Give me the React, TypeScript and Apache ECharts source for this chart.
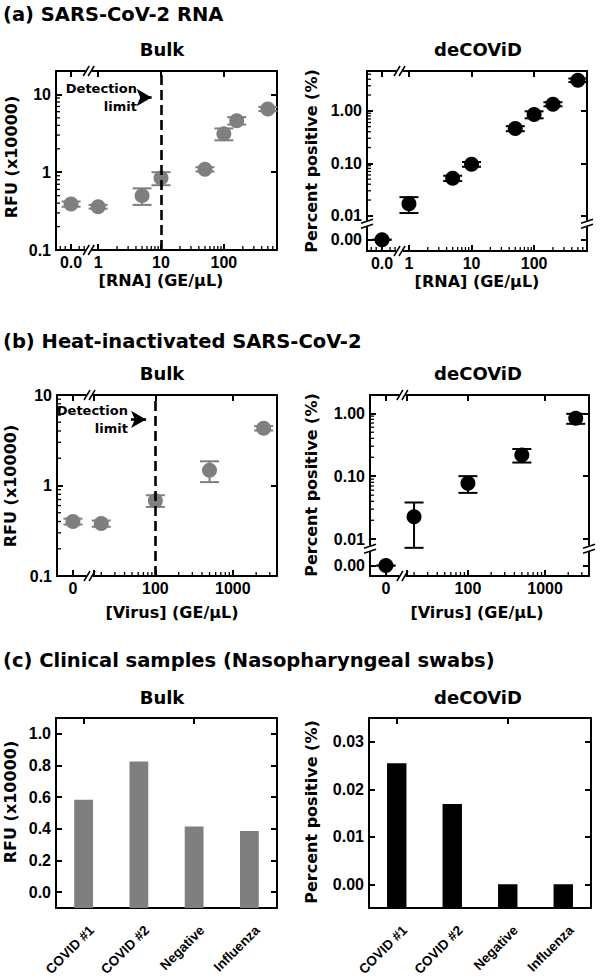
import React, { useEffect, useRef } from "react";
import * as echarts from "echarts";

// ---------------- data ----------------
// (a) SARS-CoV-2 RNA
const rnaConcBulk = [0, 1, 5, 10, 50, 100, 160, 500];
const rnaBulkRFU = [0.39, 0.36, 0.5, 0.84, 1.09, 3.11, 4.6, 6.5];
const rnaBulkErr = [0.03, 0.02, 0.12, 0.16, 0.07, 0.54, 0.5, 0.4];
const rnaConcDe = [0, 1, 5, 10, 50, 100, 200, 500];
const rnaDePct = [0, 0.017, 0.052, 0.096, 0.46, 0.85, 1.34, 3.83];
const rnaDeErr = [0, 0.0057, 0.006, 0.01, 0.05, 0.13, 0.12, 0.3];
const rnaDetectionLimit = 10;

// (b) Heat-inactivated SARS-CoV-2
const virusConc = [0, 20, 100, 500, 2500];
const virusBulkRFU = [0.4, 0.38, 0.68, 1.47, 4.3];
const virusBulkErr = [0.03, 0.03, 0.1, 0.38, 0.25];
const virusDePct = [0, 0.0228, 0.0774, 0.218, 0.83];
const virusDeErr = [0, 0.0155, 0.023, 0.053, 0.15];
const virusDetectionLimit = 100;

// (c) Clinical samples
const sampleNames = ["COVID #1", "COVID #2", "Negative", "Influenza"];
const clinicalBulkRFU = [0.583, 0.825, 0.414, 0.387];
const clinicalDePct = [0.0255, 0.0169, 0, 0];

// tick values and labels
const rnaXTicks = [0, 1, 10, 100];
const rnaXTickLabels = ["0.0", "1", "10", "100"];
const virusXTicks = [0, 16, 100, 1000];
const virusXTickLabels = ["0", "", "100", "1000"];
const rfuLogTicks = [0.1, 1, 10];
const rfuLogTickLabels = ["0.1", "1", "10"];
const pctLogTicks = [0, 0.01, 0.1, 1];
const pctLogTickLabels = ["0.00", "0.01", "0.10", "1.00"];
const rfuLinTicks = [0, 0.2, 0.4, 0.6, 0.8, 1.0];
const rfuLinTickLabels = ["0.0", "0.2", "0.4", "0.6", "0.8", "1.0"];
const pctLinTicks = [0, 0.01, 0.02, 0.03];
const pctLinTickLabels = ["0.00", "0.01", "0.02", "0.03"];

// minor tick values
const rnaXMinor = [0.25, 0.3, 0.5, 0.6, 2, 3, 4, 5, 6, 7, 8, 9, 20, 30, 40, 50, 60, 70, 80, 90, 200, 300, 400, 500, 600];
const virusXMinor = [20, 30, 40, 50, 60, 70, 80, 90, 200, 300, 400, 500, 600, 700, 800, 900, 2000, 3000];
const rfuLogMinor = [0.2, 0.3, 0.4, 0.5, 0.6, 0.7, 0.8, 0.9, 2, 3, 4, 5, 6, 7, 8, 9];
const pctLogMinorA = [0.02, 0.03, 0.04, 0.05, 0.06, 0.07, 0.08, 0.09, 0.2, 0.3, 0.4, 0.5, 0.6, 0.7, 0.8, 0.9, 2, 3, 4, 5];
const pctLogMinorB = [0.02, 0.03, 0.04, 0.05, 0.06, 0.07, 0.08, 0.09, 0.2, 0.3, 0.4, 0.5, 0.6, 0.7, 0.8, 0.9];

// ---------------- layout / style ----------------
type Range = { min: number; max: number; zero?: number; brk?: number; linear?: boolean };

const RNA_X: Range = { min: -0.67, max: 2.845, zero: -0.43, brk: -0.15 };
const VIRUS_X: Range = { min: 0.73, max: 3.57, zero: 0.936, brk: 1.15 };
const RNA_RFU_Y: Range = { min: -1, max: 1.301 };
const RNA_PCT_Y: Range = { min: -2.67, max: 0.759, zero: -2.455, brk: -2.15 };
const VIRUS_RFU_Y: Range = { min: -1, max: 1 };
const VIRUS_PCT_Y: Range = { min: -2.584, max: 0.29, zero: -2.419, brk: -2.15 };
const CLIN_RFU_Y: Range = { min: -0.1, max: 1.1, linear: true };
const CLIN_PCT_Y: Range = { min: -0.005, max: 0.035, linear: true };

const GRID_RECTS = [
  { left: 56, top: 71, width: 221, height: 179 },
  { left: 367, top: 71, width: 220, height: 180 },
  { left: 57, top: 395, width: 220, height: 181 },
  { left: 370, top: 395, width: 219, height: 181 },
  { left: 56, top: 718, width: 221, height: 190 },
  { left: 369, top: 718, width: 222, height: 190 },
];

// arrow positions (axis units) for the "Detection limit" notes
const RNA_ARROW = { x0: 0.666, x1: 0.85, y: 0.96 };
const VIRUS_ARROW = { x0: 1.685, x1: 1.88, y: 0.73 };

const BLACK = "#000";
const GRAY = "#7f7f7f";
const TICK_FONT = "'Liberation Sans', Arial, sans-serif";
const TITLE_FONT = "'DejaVu Sans', sans-serif";
const AXIS_W = 2;

const SECTION_TITLES = [
  { text: "(a) SARS-CoV-2 RNA", x: 3, y: 14 },
  { text: "(b) Heat-inactivated SARS-CoV-2", x: 3, y: 341 },
  { text: "(c) Clinical samples (Nasopharyngeal swabs)", x: 3, y: 660 },
];
const SUB_TITLES = [
  { text: "Bulk", x: 162, y: 49 },
  { text: "deCOViD", x: 478, y: 49 },
  { text: "Bulk", x: 162, y: 373 },
  { text: "deCOViD", x: 478, y: 373 },
  { text: "Bulk", x: 162, y: 697 },
  { text: "deCOViD", x: 478, y: 697 },
];
const X_TITLES = [
  { text: "[RNA] (GE/\u03bcL)", x: 161, y: 280 },
  { text: "[RNA] (GE/\u03bcL)", x: 477, y: 281 },
  { text: "[Virus] (GE/\u03bcL)", x: 172, y: 612 },
  { text: "[Virus] (GE/\u03bcL)", x: 477, y: 612 },
];
const Y_TITLES = [
  { text: "RFU (x10000)", x: 11, y: 157 },
  { text: "Percent positive (%)", x: 311, y: 161 },
  { text: "RFU (x10000)", x: 10, y: 486 },
  { text: "Percent positive (%)", x: 311, y: 485 },
  { text: "RFU (x10000)", x: 10, y: 802 },
  { text: "Percent positive (%)", x: 311, y: 812 },
];

const toPos = (v: number, r: Range) =>
  r.linear ? v : v === 0 && r.zero !== undefined ? r.zero : Math.log10(v);

function buildOption() {
  const xAxes: any[] = [];
  const yAxes: any[] = [];
  const series: any[] = [];
  const lineStyle = { color: BLACK, width: AXIS_W };

  function addAxes(
    dim: "x" | "y",
    gridIndex: number,
    r: Range,
    ticks: number[],
    labels: string[],
    margin: number
  ): number {
    const list = dim === "x" ? xAxes : yAxes;
    const major = ticks.map((v) => toPos(v, r));
    const lookup = new Map<string, string>(major.map((p, i) => [p.toFixed(4), labels[i]]));
    const base = {
      type: "value",
      gridIndex,
      min: r.min,
      max: r.max,
      splitLine: { show: false },
      splitArea: { show: false },
      axisLine: { show: true, onZero: false, lineStyle },
    };
    const idx = list.length;
    list.push({
      ...base,
      position: dim === "x" ? "bottom" : "left",
      axisTick: { show: true, inside: true, length: 6, customValues: major, lineStyle },
      axisLabel: {
        show: true,
        customValues: major,
        margin,
        formatter: (v: number) => lookup.get(Number(v).toFixed(4)) ?? "",
        color: BLACK,
        fontFamily: TICK_FONT,
        fontWeight: "bold",
        fontSize: 16,
      },
    });
    list.push({
      ...base,
      position: dim === "x" ? "top" : "right",
      axisTick: { show: true, inside: true, length: 6, customValues: major, lineStyle },
      axisLabel: { show: false },
    });
    return idx;
  }

  const errorRender = (color: string) => (params: any, api: any) => {
    const x = api.value(0);
    const pLo = api.coord([x, api.value(1)]);
    const pHi = api.coord([x, api.value(2)]);
    const hw = 9.5;
    const st = { stroke: color, lineWidth: 2 };
    return {
      type: "group",
      children: [
        { type: "line", shape: { x1: pLo[0], y1: pLo[1], x2: pHi[0], y2: pHi[1] }, style: st },
        { type: "line", shape: { x1: pLo[0] - hw, y1: pLo[1], x2: pLo[0] + hw, y2: pLo[1] }, style: st },
        { type: "line", shape: { x1: pHi[0] - hw, y1: pHi[1], x2: pHi[0] + hw, y2: pHi[1] }, style: st },
      ],
    };
  };

  const panels: any[] = [];
  const barPanels: any[] = [];

  function addScatterPanel(
    gridIndex: number,
    xr: Range,
    yr: Range,
    xTicks: number[],
    xLabels: string[],
    xMinor: number[],
    yTicks: number[],
    yLabels: string[],
    yMinor: number[],
    xs: number[],
    ys: number[],
    errs: number[],
    color: string,
    detection?: { limit: number; arrow: { x0: number; x1: number; y: number } }
  ) {
    const xi = addAxes("x", gridIndex, xr, xTicks, xLabels, 4);
    const yi = addAxes("y", gridIndex, yr, yTicks, yLabels, 5);
    series.push({
      type: "custom",
      xAxisIndex: xi,
      yAxisIndex: yi,
      silent: true,
      z: 2,
      encode: { x: 0, y: [1, 2] },
      data: xs.map((x, i) => [toPos(x, xr), toPos(ys[i] - errs[i], yr), toPos(ys[i] + errs[i], yr)]),
      renderItem: errorRender(color),
    });
    const sc: any = {
      type: "scatter",
      xAxisIndex: xi,
      yAxisIndex: yi,
      silent: true,
      z: 3,
      symbol: "circle",
      symbolSize: 15,
      itemStyle: { color, opacity: 1 },
      emphasis: { disabled: true },
      data: xs.map((x, i) => [toPos(x, xr), toPos(ys[i], yr)]),
    };
    if (detection) {
      sc.markLine = {
        silent: true,
        symbol: ["none", "none"],
        label: { show: false },
        data: [
          { xAxis: toPos(detection.limit, xr), lineStyle: { type: [10, 5], color: BLACK, width: 2.6 } },
          [
            {
              coord: [detection.arrow.x0, detection.arrow.y],
              symbol: "none",
              lineStyle: { type: "solid", color: BLACK, width: 2.6 },
            },
            { coord: [detection.arrow.x1, detection.arrow.y], symbol: "arrow", symbolSize: [13, 15] },
          ],
        ],
      };
    }
    series.push(sc);
    panels.push({
      xi,
      yi,
      xr,
      yr,
      detection,
      xMinor: xMinor.map((v) => toPos(v, xr)),
      yMinor: yMinor.map((v) => toPos(v, yr)),
    });
  }

  function addBarPanel(
    gridIndex: number,
    yr: Range,
    yTicks: number[],
    yLabels: string[],
    values: number[],
    color: string,
    frac: number
  ) {
    const xi = xAxes.length;
    xAxes.push({
      type: "category",
      gridIndex,
      data: sampleNames,
      position: "bottom",
      axisLine: { show: true, onZero: false, lineStyle },
      axisTick: { show: false },
      splitLine: { show: false },
      axisLabel: { show: false },
    });
    xAxes.push({
      type: "category",
      gridIndex,
      data: sampleNames,
      position: "top",
      axisLine: { show: true, onZero: false, lineStyle },
      axisTick: { show: true, inside: true, alignWithLabel: true, length: 6, lineStyle },
      splitLine: { show: false },
      axisLabel: { show: false },
    });
    const yi = addAxes("y", gridIndex, yr, yTicks, yLabels, 5);
    series.push({
      type: "custom",
      xAxisIndex: xi,
      yAxisIndex: yi,
      silent: true,
      encode: { x: 0, y: 1 },
      data: values.map((v, i) => [i, v]),
      renderItem: (params: any, api: any) => {
        const c = api.value(0);
        const top = api.coord([c, api.value(1)]);
        const base = api.coord([c, yr.min]);
        const w = api.size([1, 0])[0] * frac;
        return {
          type: "rect",
          shape: { x: top[0] - w / 2, y: top[1], width: w, height: base[1] - top[1] },
          style: { fill: color },
        };
      },
    });
    barPanels.push({ xi, yi, yr });
  }

  addScatterPanel(0, RNA_X, RNA_RFU_Y, rnaXTicks, rnaXTickLabels, rnaXMinor, rfuLogTicks, rfuLogTickLabels, rfuLogMinor,
    rnaConcBulk, rnaBulkRFU, rnaBulkErr, GRAY, { limit: rnaDetectionLimit, arrow: RNA_ARROW });
  addScatterPanel(1, RNA_X, RNA_PCT_Y, rnaXTicks, rnaXTickLabels, rnaXMinor, pctLogTicks, pctLogTickLabels, pctLogMinorA,
    rnaConcDe, rnaDePct, rnaDeErr, BLACK);
  addScatterPanel(2, VIRUS_X, VIRUS_RFU_Y, virusXTicks, virusXTickLabels, virusXMinor, rfuLogTicks, rfuLogTickLabels, rfuLogMinor,
    virusConc, virusBulkRFU, virusBulkErr, GRAY, { limit: virusDetectionLimit, arrow: VIRUS_ARROW });
  addScatterPanel(3, VIRUS_X, VIRUS_PCT_Y, virusXTicks, virusXTickLabels, virusXMinor, pctLogTicks, pctLogTickLabels, pctLogMinorB,
    virusConc, virusDePct, virusDeErr, BLACK);
  addBarPanel(4, CLIN_RFU_Y, rfuLinTicks, rfuLinTickLabels, clinicalBulkRFU, GRAY, 0.34);
  addBarPanel(5, CLIN_PCT_Y, pctLinTicks, pctLinTickLabels, clinicalDePct, BLACK, 0.35);

  const option = {
    animation: false,
    backgroundColor: "#fff",
    grid: GRID_RECTS.map((g) => ({ ...g, containLabel: false, outerBoundsMode: "none" })),
    xAxis: xAxes,
    yAxis: yAxes,
    series,
  };
  return { option, panels, barPanels };
}

function buildGraphic(chart: any, panels: any[], barPanels: any[]) {
  const g: any[] = [];
  const px = (xi: number, v: any) => chart.convertToPixel({ xAxisIndex: xi }, v) as number;
  const py = (yi: number, v: number) => chart.convertToPixel({ yAxisIndex: yi }, v) as number;
  const seg = (x1: number, y1: number, x2: number, y2: number, stroke: string, lineWidth: number, z = 101) =>
    g.push({ type: "line", z, shape: { x1, y1, x2, y2 }, style: { stroke, lineWidth } });

  const xBreak = (X: number, Y: number) => {
    seg(X - 3, Y, X + 3, Y, "#fff", 5, 100);
    for (const d of [-2.5, 2.5]) seg(X + d - 3, Y + 5, X + d + 3, Y - 5, BLACK, 1.5);
  };
  const yBreak = (X: number, Y: number) => {
    seg(X, Y - 3, X, Y + 3, "#fff", 5, 100);
    for (const d of [-2.5, 2.5]) seg(X - 6, Y + d + 2, X + 6, Y + d - 2, BLACK, 1.5);
  };

  for (const p of panels) {
    const yBottom = py(p.yi, p.yr.min);
    const yTop = py(p.yi, p.yr.max);
    const xLeft = px(p.xi, p.xr.min);
    const xRight = px(p.xi, p.xr.max);
    // minor (log) ticks, inside the frame
    for (const m of p.xMinor) {
      const X = px(p.xi, m);
      seg(X, yBottom, X, yBottom - 4, BLACK, 1.3, 50);
    }
    for (const m of p.yMinor) {
      const Y = py(p.yi, m);
      seg(xLeft, Y, xLeft + 4, Y, BLACK, 1.3, 50);
    }
    if (p.xr.brk !== undefined) {
      const X = px(p.xi, p.xr.brk);
      xBreak(X, yBottom);
      xBreak(X, yTop);
    }
    if (p.yr.brk !== undefined) {
      const Y = py(p.yi, p.yr.brk);
      yBreak(xLeft, Y);
      yBreak(xRight, Y);
    }
    if (p.detection) {
      g.push({
        type: "text",
        z: 101,
        x: px(p.xi, p.detection.arrow.x0) - 3,
        y: py(p.yi, p.detection.arrow.y),
        style: {
          text: "Detection\nlimit",
          align: "right",
          verticalAlign: "middle",
          lineHeight: 18,
          fontFamily: TITLE_FONT,
          fontWeight: "bold",
          fontSize: 13,
          fill: BLACK,
        },
      });
    }
  }

  // rotated category labels for the clinical-sample panels
  for (const b of barPanels) {
    const yBottom = py(b.yi, b.yr.min);
    sampleNames.forEach((name) => {
      g.push({
        type: "text",
        z: 101,
        x: px(b.xi, name) + 8,
        y: yBottom + 20,
        rotation: Math.PI / 4,
        style: {
          text: name,
          align: "right",
          verticalAlign: "middle",
          fontFamily: TICK_FONT,
          fontWeight: "bold",
          fontSize: 13.5,
          fill: BLACK,
        },
      });
    });
  }

  const txt = (t: any, size: number, align: string, rot = 0) => ({
    type: "text",
    z: 101,
    x: t.x,
    y: t.y,
    rotation: rot,
    style: {
      text: t.text,
      align,
      verticalAlign: "middle",
      fontFamily: TITLE_FONT,
      fontWeight: "bold",
      fontSize: size,
      fill: BLACK,
    },
  });
  SECTION_TITLES.forEach((t) => g.push(txt(t, 19.5, "left")));
  SUB_TITLES.forEach((t) => g.push(txt(t, 18, "center")));
  X_TITLES.forEach((t) => g.push(txt(t, 16, "center")));
  Y_TITLES.forEach((t) => g.push(txt(t, 16, "center", Math.PI / 2)));
  return g;
}

export default function App() {
  const ref = useRef<HTMLDivElement>(null);
  useEffect(() => {
    if (!ref.current) return;
    const chart = echarts.init(ref.current, null, { renderer: "svg" });
    const { option, panels, barPanels } = buildOption();
    chart.setOption(option as any);
    chart.setOption({ graphic: buildGraphic(chart, panels, barPanels) } as any);
    return () => chart.dispose();
  }, []);
  return (
    <div
      ref={ref}
      style={{ position: "fixed", left: 0, top: 0, width: 600, height: 978, background: "#fff" }}
    />
  );
}
